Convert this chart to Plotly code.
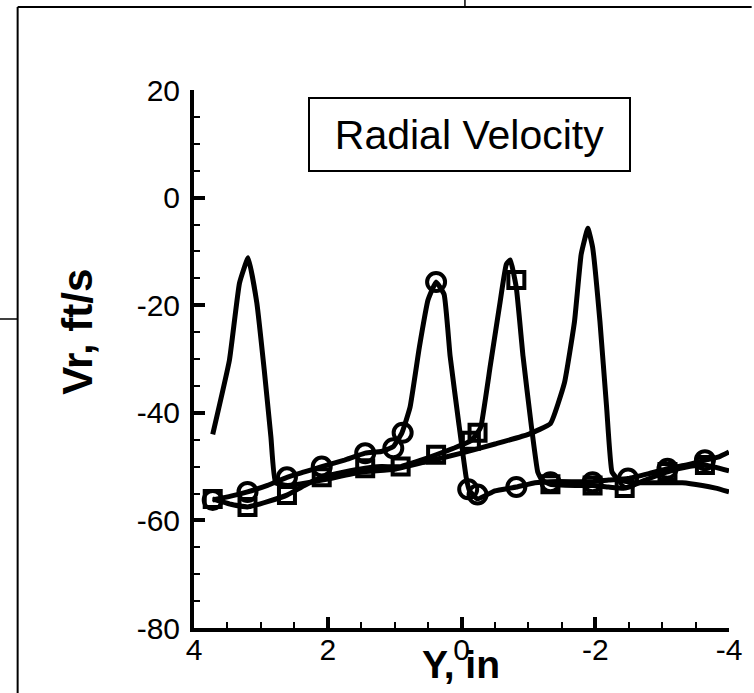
import plotly.graph_objects as go

# ---- data ----
# plain line (no markers)
a_x = [3.72, 3.47, 3.32, 3.19, 3.06, 2.95, 2.85, 2.78, 2.6, 2.3, 2.0, 1.5, 1.0, 0.5, 0.0, -0.5, -1.0,
       -1.33, -1.54, -1.69, -1.79, -1.89, -1.96, -2.07, -2.17, -2.25, -2.35, -2.6, -3.0, -3.3, -3.6, -3.8, -4.0]
a_y = [-44, -30.2, -15.9, -11.2, -19.6, -32, -44.5, -53, -53.5, -53, -52.3, -51, -50.5, -49, -47.5, -45.8, -44,
       -42, -34.4, -23, -10.5, -5.7, -9.2, -23, -39, -51, -52.5, -53, -53, -53, -53.5, -54, -54.7]

# circle series: line
c_x = [3.72, 3.45, 3.2, 2.9, 2.61, 2.35, 2.09, 1.75, 1.44, 1.2, 1.02, 0.89, 0.77, 0.63, 0.5, 0.38, 0.26, 0.17,
       0.04, -0.07, -0.12, -0.24, -0.5, -0.82, -1.1, -1.33, -1.7, -1.96, -2.2, -2.49, -2.8, -3.08, -3.4, -3.64,
       -3.85, -4.0]
c_y = [-56.2, -55.5, -54.7, -53.5, -52, -51, -50, -48.8, -47.5, -47.2, -46.3, -43.7, -39, -27.8, -19, -15.7,
       -18, -29.5, -42, -52, -54.5, -56, -54.5, -53.8, -53, -52.8, -52.8, -52.8, -52.5, -52.2, -51.3, -50.4,
       -49.6, -48.8, -48.2, -47.3]
# circle series: markers
cm_x = [3.72, 3.2, 2.61, 2.09, 1.44, 1.02, 0.88, 0.38, -0.1, -0.24, -0.82, -1.33, -1.96, -2.49, -3.08, -3.64]
cm_y = [-56.2, -54.7, -52, -50, -47.5, -46.6, -43.7, -15.7, -54.2, -55.2, -53.8, -52.9, -52.9, -52.2, -50.4, -48.8]

# square series: line
s_x = [3.72, 3.45, 3.2, 2.9, 2.61, 2.35, 2.09, 1.75, 1.44, 1.2, 0.91, 0.65, 0.38, 0.1, -0.14, -0.24, -0.29,
       -0.43, -0.57, -0.67, -0.73, -0.82, -0.92, -1.04, -1.14, -1.2, -1.33, -1.7, -1.96, -2.2, -2.44, -2.75,
       -3.08, -3.4, -3.64, -4.0]
s_y = [-56, -57, -57.5, -56.5, -55.3, -53.5, -52, -51, -50.3, -50, -50, -49, -47.8, -46.5, -45.2, -43.7, -42.6,
       -31.3, -20, -12.4, -11.6, -16.8, -29.5, -42, -51, -52.5, -53.3, -53.5, -53.5, -53.8, -54, -52.5,
       -51, -50, -49.7, -50.8]
# square series: markers
sm_x = [3.72, 3.2, 2.61, 2.09, 1.44, 0.91, 0.38, -0.14, -0.24, -0.82, -1.33, -1.96, -2.44, -3.08, -3.64]
sm_y = [-56, -57.5, -55.3, -52, -50.3, -50, -47.8, -45.2, -43.7, -15.3, -53.3, -53.5, -54, -51, -49.7]

x_ticks = [4, 2, 0, -2, -4]
y_ticks = [20, 0, -20, -40, -60, -80]

FONT = "Liberation Sans, Arial, Helvetica, sans-serif"

fig = go.Figure()
line_style = dict(color="black", width=5, shape="spline", smoothing=0.35)
fig.add_trace(go.Scatter(x=a_x, y=a_y, mode="lines", line=line_style))
fig.add_trace(go.Scatter(x=c_x, y=c_y, mode="lines", line=line_style))
fig.add_trace(go.Scatter(x=s_x, y=s_y, mode="lines", line=line_style))
fig.add_trace(go.Scatter(x=cm_x, y=cm_y, mode="markers",
                         marker=dict(symbol="circle-open", size=18, color="black", line=dict(width=4, color="black"))))
fig.add_trace(go.Scatter(x=sm_x, y=sm_y, mode="markers",
                         marker=dict(symbol="square-open", size=16, color="black", line=dict(width=4, color="black"))))

axis_common = dict(showgrid=False, zeroline=False, showline=True, linecolor="black", linewidth=4,
                   ticks="inside", ticklen=11, tickwidth=4, tickcolor="black",
                   tickfont=dict(family=FONT, size=30, color="black"))

fig.update_xaxes(range=[4, -4], tickvals=x_ticks, ticktext=[str(v) for v in x_ticks],
                 minor=dict(dtick=0.5, ticks="inside", ticklen=6, tickwidth=2, tickcolor="black"),
                 ticklabelstandoff=-8, **axis_common)
fig.update_yaxes(range=[-80, 20], tickvals=y_ticks, ticktext=[str(v) for v in y_ticks],
                 minor=dict(dtick=5, ticks="inside", ticklen=6, tickwidth=2, tickcolor="black"),
                 ticklabelstandoff=4, **axis_common)

W, H = 754, 693
L, R, T, B = 194, 17, 90, 65
pw, ph = W - L - R, H - T - B

def px(xp):
    return (xp - L) / pw

def py(yp):
    return (H - B - yp) / ph

annotations = [
    dict(text="<b>Vr, ft/s</b>", x=px(75), y=py(332), xref="paper", yref="paper", showarrow=False,
         xanchor="center", yanchor="middle",
         textangle=-90, font=dict(family=FONT, size=42, color="black")),
    dict(text="<b>Y, in</b>", x=px(465), y=py(664), xref="paper", yref="paper", showarrow=False,
         xanchor="center", yanchor="middle",
         font=dict(family=FONT, size=39, color="black")),
    dict(text="Radial Velocity", x=px(473.5), y=py(134.5), xref="paper", yref="paper", showarrow=False,
         xanchor="center", yanchor="middle",
         font=dict(family=FONT, size=41, color="black"), bordercolor="black", borderwidth=2,
         width=317, height=69, bgcolor="white"),
]

shapes = [
    # outer frame pieces
    dict(type="line", xref="paper", yref="paper", x0=px(15), x1=px(760), y0=py(7), y1=py(7),
         line=dict(color="black", width=2)),
    dict(type="line", xref="paper", yref="paper", x0=px(15), x1=px(15), y0=py(7), y1=py(700),
         line=dict(color="black", width=2)),
    dict(type="line", xref="paper", yref="paper", x0=px(469), x1=px(469), y0=py(-5), y1=py(7),
         line=dict(color="black", width=1.5)),
    dict(type="line", xref="paper", yref="paper", x0=px(-5), x1=px(15), y0=py(319), y1=py(319),
         line=dict(color="black", width=1.5)),
]

fig.update_layout(width=W, height=H, margin=dict(l=L, r=R, t=T, b=B), showlegend=False,
                  plot_bgcolor="white", paper_bgcolor="white", annotations=annotations, shapes=shapes)

fig.write_html("out.html")
